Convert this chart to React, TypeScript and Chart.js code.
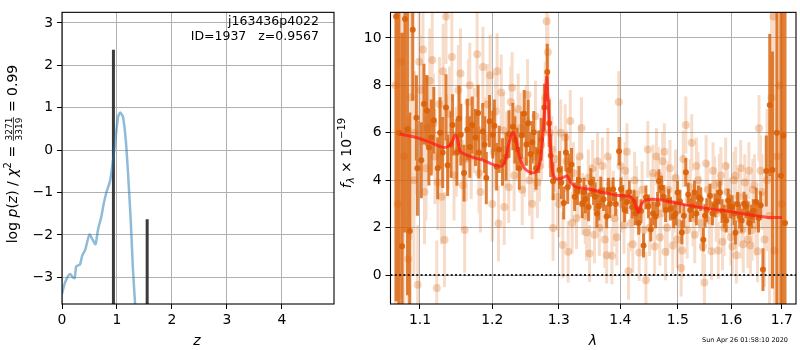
import React, { useEffect, useRef } from "react";
import { Chart, registerables } from "chart.js";
Chart.register(...registerables);

// ---------- left panel: log p(z) ----------
const zGrid = [0, 0.045, 0.11, 0.15, 0.19, 0.23, 0.26, 0.325, 0.37, 0.42, 0.5, 0.56, 0.61, 0.656, 0.716, 0.758, 0.807, 0.87, 0.91, 0.96, 1.02, 1.06, 1.11, 1.16, 1.2, 1.25, 1.29, 1.33, 1.4];
const logPz = [-3.39, -3.16, -2.97, -2.92, -2.99, -3.02, -2.74, -2.7, -2.48, -2.36, -1.99, -2.12, -2.22, -1.87, -1.57, -1.27, -1.0, -0.75, -0.43, 0.1, 0.78, 0.89, 0.78, 0.25, -0.51, -1.64, -2.78, -3.63, -5.0];
const peakZ = [0.936, 1.55];
const peakTop = [2.37, -1.63];
const zTicks = [0, 1, 2, 3, 4];
const pzTicks = [-3, -2, -1, 0, 1, 2, 3];
const Z_MIN = 0, Z_MAX = 4.95, PZ_MIN = -3.63, PZ_MAX = 3.25;

// ---------- right panel: spectrum ----------
const darkLam = [1.0689, 1.0725, 1.0766, 1.0804, 1.0836, 1.0866, 1.0905, 1.0953, 1.0966, 1.1018, 1.1053, 1.1092, 1.1119, 1.1185, 1.1238, 1.1305, 1.135, 1.1372, 1.144, 1.15, 1.1554, 1.1599, 1.1645, 1.1714, 1.1797, 1.1807, 1.1862, 1.1914, 1.196, 1.2007, 1.2063, 1.2148, 1.2244, 1.2301, 1.2363, 1.2397, 1.2469, 1.2502, 1.2565, 1.2614, 1.2648, 1.2726, 1.2776, 1.2821, 1.2874, 1.291, 1.301, 1.3077, 1.3112, 1.3163, 1.32, 1.3293, 1.3371, 1.3423, 1.3475, 1.3555, 1.3609, 1.3673, 1.377, 1.3823, 1.3878, 1.3977, 1.401, 1.4071, 1.4109, 1.4199, 1.4254, 1.431, 1.4395, 1.4436, 1.4521, 1.4607, 1.4664, 1.471, 1.478, 1.4838, 1.4926, 1.4997, 1.5074, 1.5146, 1.5226, 1.5304, 1.5377, 1.5469, 1.5531, 1.5593, 1.5686, 1.578, 1.5861, 1.5937, 1.6013, 1.6077, 1.6161, 1.6245, 1.6323, 1.6388, 1.6486, 1.6573, 1.6619, 1.6686, 1.6755, 1.681, 1.69, 1.6983, 1.7031, 1.7066,
  1.304, 1.314, 1.325, 1.332, 1.34, 1.351, 1.358, 1.364, 1.372, 1.38, 1.392, 1.404, 1.415, 1.423, 1.428, 1.435, 1.448, 1.456, 1.464, 1.475, 1.487, 1.496, 1.504, 1.511, 1.519, 1.527, 1.534, 1.542, 1.55, 1.564, 1.573, 1.582, 1.59, 1.597, 1.605, 1.612, 1.62, 1.628, 1.635, 1.643, 1.653,
  1.115, 1.127, 1.142, 1.153, 1.168, 1.176, 1.189, 1.203, 1.21, 1.22, 1.233, 1.243, 1.253, 1.259, 1.269, 1.285];
const darkFlux = [10.9, 6.0, 1.22, 10.8, 6.15, 1.86, 10.35, 6.63, 4.5, 4.84, 7.21, 6.94, 5.38, 6.53, 4.5, 5.17, 7.07, 4.63, 6.33, 5.17, 5.92, 4.3, 6.13, 6.33, 6.83, 5.17, 6.06, 4.09, 6.49, 5.92, 4.57, 4.77, 5.95, 6.26, 5.31, 4.5, 6.8, 5.51, 5.11, 6.02, 4.5, 5.72, 7.07, 8.56, 5.04, 3.96, 4.43, 3.04, 5.17, 4.43, 4.66, 3.55, 3.01, 3.21, 2.87, 3.55, 2.6, 3.55, 2.47, 3.01, 3.62, 5.22, 3.62, 2.74, 3.08, 2.87, 2.6, 2.2, 1.25, 3.28, 1.92, 2.47, 3.96, 3.69, 2.74, 3.14, 2.47, 3.48, 1.8, 4.34, 2.74, 3.48, 3.28, 1.49, 2.74, 3.35, 2.94, 3.48, 2.47, 3.14, 2.87, 1.79, 2.47, 3.01, 2.6, 2.47, 3.08, 2.94, 0.23, 4.39, 7.17, 4.43, 6.0, 4.19, 5.88, 2.2,
  3.9, 3.7, 3.3, 4.0, 3.5, 3.9, 3.3, 2.9, 3.2, 3.6, 3.0, 3.3, 3.5, 3.1, 2.8, 2.7, 2.9, 2.6, 3.0, 3.3, 2.8, 2.6, 3.1, 2.5, 3.4, 2.9, 2.6, 3.2, 2.5, 2.6, 3.1, 2.7, 2.3, 2.9, 2.6, 3.0, 2.3, 2.9, 2.2, 2.7, 2.4,
  5.8, 6.0, 5.5, 6.6, 5.4, 5.8, 5.5, 6.3, 5.3, 5.0, 5.7, 5.9, 6.4, 5.6, 5.2, 6.4];
const darkErr = [12, 9, 9, 9, 7, 5, 3, 1.8, 2.0, 1.6, 1.7, 1.5, 1.6, 1.4, 1.3, 1.5, 1.4, 1.3, 1.3, 1.4, 1.3, 1.2, 1.3, 1.2, 1.2, 1.1, 1.2, 1.1, 1.1, 1.0, 1.0, 1.0, 1.0, 1.0, 0.9, 0.9, 1.0, 0.9, 0.9, 0.9, 0.9, 0.9, 1.0, 1.2, 0.9, 0.8, 0.8, 0.7, 0.8, 0.7, 0.7, 0.6, 0.6, 0.6, 0.6, 0.6, 0.6, 0.6, 0.5, 0.6, 0.5, 0.6, 0.5, 0.5, 0.5, 0.5, 0.5, 0.5, 0.5, 0.5, 0.5, 0.5, 0.5, 0.5, 0.5, 0.5, 0.5, 0.5, 0.5, 0.6, 0.5, 0.5, 0.5, 0.5, 0.5, 0.5, 0.5, 0.5, 0.5, 0.5, 0.5, 0.5, 0.5, 0.5, 0.5, 0.5, 0.6, 0.6, 0.9, 1.5, 3, 5, 10, 12, 12, 12,
  0.7, 0.7, 0.6, 0.6, 0.6, 0.6, 0.6, 0.6, 0.5, 0.5, 0.5, 0.5, 0.5, 0.5, 0.5, 0.5, 0.5, 0.5, 0.5, 0.5, 0.5, 0.5, 0.5, 0.5, 0.5, 0.5, 0.5, 0.5, 0.5, 0.5, 0.5, 0.5, 0.5, 0.5, 0.5, 0.5, 0.5, 0.5, 0.5, 0.5, 0.6,
  1.6, 1.5, 1.4, 1.4, 1.3, 1.2, 1.2, 1.1, 1.0, 1.0, 1.0, 1.0, 1.0, 0.9, 0.9, 1.0];

const lightLam = [1.068, 1.071, 1.075, 1.079, 1.0845, 1.088, 1.092, 1.097, 1.099, 1.104, 1.106, 1.11, 1.1164, 1.12, 1.1225, 1.126, 1.129, 1.133, 1.135, 1.14, 1.146, 1.152, 1.158, 1.1608, 1.166, 1.17, 1.1783, 1.183, 1.1866, 1.19, 1.1969, 1.2, 1.205, 1.209, 1.213, 1.2174, 1.221, 1.227, 1.232, 1.238, 1.244, 1.25, 1.255, 1.259, 1.264, 1.27, 1.275, 1.279, 1.2811, 1.283, 1.286, 1.291, 1.295, 1.3, 1.3063, 1.31, 1.3147, 1.318, 1.323, 1.328, 1.333, 1.338, 1.344, 1.349, 1.354, 1.36, 1.365, 1.37, 1.377, 1.382, 1.3857, 1.39, 1.3972, 1.402, 1.408, 1.4137, 1.418, 1.424, 1.432, 1.437, 1.4436, 1.45, 1.456, 1.462, 1.468, 1.473, 1.478, 1.483, 1.491, 1.496, 1.503, 1.5061, 1.508, 1.5146, 1.52, 1.5254, 1.531, 1.537, 1.543, 1.5488, 1.555, 1.5622, 1.568, 1.575, 1.58, 1.586, 1.592, 1.599, 1.605, 1.6097, 1.615, 1.62, 1.626, 1.632, 1.637, 1.642, 1.648, 1.654, 1.66, 1.665, 1.67, 1.675, 1.679, 1.683, 1.685, 1.69, 1.695, 1.7,
  1.093, 1.101, 1.108, 1.113, 1.118, 1.124, 1.131, 1.138, 1.143, 1.149, 1.155, 1.163, 1.168, 1.174, 1.181, 1.193, 1.202, 1.207, 1.216, 1.224, 1.229, 1.235, 1.241, 1.247, 1.252, 1.262, 1.267, 1.273, 1.289, 1.298, 1.303, 1.312, 1.321, 1.33, 1.336, 1.342, 1.347, 1.357, 1.362, 1.368, 1.374, 1.379, 1.388, 1.394, 1.4, 1.406, 1.411, 1.421, 1.427, 1.44, 1.447, 1.453, 1.459, 1.465, 1.47, 1.476, 1.481, 1.486, 1.493, 1.499, 1.51, 1.517, 1.523, 1.528, 1.534, 1.54, 1.546, 1.552, 1.558, 1.565, 1.571, 1.577, 1.583, 1.589, 1.596, 1.602, 1.608, 1.613, 1.618, 1.623, 1.629, 1.634, 1.64, 1.645, 1.651, 1.657];
const lightFlux = [8.0, 3.0, 9.0, 5.0, 0.68, 7.5, 4.0, -0.41, 9.0, 9.51, 3.5, 6.2, 9.07, 5.0, -0.54, 7.2, 3.3, 1.49, 10.9, 6.8, 4.2, 7.8, 3.8, 1.9, 7.3, 5.0, 9.31, 3.5, 8.77, 5.8, 8.43, 3.0, 6.9, 2.17, 7.7, 2.87, 5.3, 7.3, 4.2, 7.0, 3.6, 6.5, 4.0, 3.01, 6.7, 4.6, 6.0, 7.5, 10.7, 9.4, 6.0, 1.99, 4.9, 3.0, 1.27, 5.8, 0.98, 6.5, 4.3, 2.4, 5.0, 3.0, 1.8, 0.91, 4.5, 3.4, 2.0, 4.6, 0.84, 3.8, 0.81, 2.4, 7.3, 3.0, 4.4, 0.16, 2.2, 4.0, 0.95, 3.6, -0.22, 2.0, 4.3, 5.0, 1.6, 4.8, 0.98, 3.6, 1.25, 4.1, 2.2, 0.3, 1.04, 6.33, 3.2, 5.58, 1.7, 4.0, 2.2, -0.31, 3.6, 1.0, 3.8, 1.04, 4.2, 2.0, 3.5, 1.6, 4.0, 0.84, 3.3, 1.9, 3.9, 1.5, 1.25, 3.6, 2.1, 6.19, 3.5, 1.5, 4.0, 2.5, 7.48, 10.9, 1.04, 5.0, 8.0, 3.0,
  6.0, 7.8, 4.5, 8.2, 6.4, 3.9, 8.6, 5.6, 9.2, 5.2, 8.5, 4.9, 8.0, 6.1, 4.3, 7.2, 5.2, 8.6, 6.1, 3.7, 7.9, 5.5, 6.2, 4.8, 7.6, 5.0, 3.9, 5.5, 5.3, 3.3, 6.0, 4.8, 2.2, 3.7, 6.2, 2.5, 4.1, 1.7, 4.8, 3.0, 1.5, 5.0, 3.2, 1.6, 4.6, 2.1, 5.2, 1.3, 3.4, 1.9, 5.3, 3.1, 1.2, 4.2, 2.6, 5.2, 2.0, 4.5, 3.0, 1.5, 4.9, 1.9, 3.7, 2.4, 4.6, 3.0, 1.2, 4.7, 2.3, 4.4, 2.6, 3.9, 1.4, 4.6, 2.9, 1.2, 4.2, 2.4, 4.5, 1.3, 3.0, 4.4, 1.9, 3.8, 1.0, 4.4];
const lightErr = [10, 10, 10, 8, 6, 6, 4, 2.5, 2.5, 2.3, 2.2, 2.2, 2.2, 2.0, 2.0, 2.0, 2.0, 2.0, 2.0, 2.0, 1.9, 1.9, 1.9, 1.8, 1.8, 1.8, 1.8, 1.7, 1.7, 1.7, 1.7, 1.6, 1.6, 1.6, 1.6, 1.6, 1.6, 1.5, 1.5, 1.5, 1.5, 1.5, 1.5, 1.5, 1.5, 1.5, 1.5, 1.5, 1.8, 1.6, 1.5, 1.4, 1.4, 1.4, 1.4, 1.4, 1.3, 1.3, 1.3, 1.3, 1.3, 1.3, 1.2, 1.2, 1.2, 1.2, 1.2, 1.2, 1.2, 1.2, 1.2, 1.2, 1.3, 1.2, 1.2, 1.2, 1.2, 1.2, 1.2, 1.2, 1.2, 1.2, 1.2, 1.2, 1.2, 1.2, 1.2, 1.2, 1.2, 1.2, 1.2, 1.2, 1.2, 1.2, 1.2, 1.2, 1.2, 1.2, 1.2, 1.2, 1.2, 1.2, 1.2, 1.2, 1.2, 1.2, 1.2, 1.2, 1.2, 1.2, 1.2, 1.2, 1.2, 1.2, 1.2, 1.3, 1.3, 1.4, 1.6, 2, 3, 4, 5, 6, 6, 10, 12, 12,
  2.6, 2.3, 2.2, 2.2, 2.1, 2.0, 2.0, 2.0, 1.9, 1.9, 1.9, 1.8, 1.8, 1.8, 1.7, 1.7, 1.6, 1.6, 1.6, 1.5, 1.5, 1.5, 1.5, 1.5, 1.5, 1.5, 1.5, 1.5, 1.4, 1.4, 1.4, 1.3, 1.3, 1.3, 1.3, 1.2, 1.2, 1.2, 1.2, 1.2, 1.2, 1.2, 1.2, 1.2, 1.2, 1.2, 1.2, 1.2, 1.2, 1.2, 1.2, 1.2, 1.2, 1.2, 1.2, 1.2, 1.2, 1.2, 1.2, 1.2, 1.2, 1.2, 1.2, 1.2, 1.2, 1.2, 1.2, 1.2, 1.2, 1.2, 1.2, 1.2, 1.2, 1.2, 1.2, 1.2, 1.2, 1.2, 1.2, 1.2, 1.2, 1.2, 1.3, 1.3, 1.3, 1.5];

const modelLam = [1.0736, 1.0974, 1.115, 1.1328, 1.1417, 1.1475, 1.1506, 1.1542, 1.1597, 1.1735, 1.1874, 1.2016, 1.2134, 1.2183, 1.2245, 1.2303, 1.2342, 1.2401, 1.2475, 1.2574, 1.265, 1.2711, 1.2752, 1.2787, 1.2813, 1.2839, 1.287, 1.2905, 1.2947, 1.3035, 1.313, 1.3194, 1.3274, 1.349, 1.371, 1.3933, 1.416, 1.4229, 1.4304, 1.4362, 1.445, 1.4688, 1.5114, 1.5491, 1.5999, 1.6396, 1.6731, 1.7003];
const modelFlux = [5.95, 5.78, 5.58, 5.38, 5.51, 5.92, 5.78, 5.24, 5.11, 4.95, 4.84, 4.66, 4.59, 4.77, 5.58, 6.02, 5.72, 4.97, 4.5, 4.32, 4.36, 4.77, 5.85, 7.3, 8.35, 7.07, 5.45, 4.36, 4.07, 4.07, 4.18, 3.89, 3.71, 3.62, 3.48, 3.37, 3.31, 3.14, 2.64, 3.01, 3.17, 3.17, 2.97, 2.83, 2.67, 2.53, 2.43, 2.43];
const lamTicks = [1.1, 1.2, 1.3, 1.4, 1.5, 1.6, 1.7];
const fluxTicks = [0, 2, 4, 6, 8, 10];
const LAM_MIN = 1.0617, LAM_MAX = 1.7293, F_MIN = -1.22, F_MAX = 11.08;

const FONT = "DejaVu Sans";
const TICK_FONT = { family: FONT, size: 13.9 };

function errorSegments(lam: number[], flux: number[], err: number[]) {
  const pts: any[] = [];
  for (let i = 0; i < lam.length; i++) {
    pts.push({ x: lam[i], y: flux[i] - err[i] });
    pts.push({ x: lam[i], y: flux[i] + err[i] });
    pts.push({ x: lam[i], y: null });
  }
  return pts;
}

function drawRotated(ctx: CanvasRenderingContext2D, pieces: any[], centerY: number, baselineX: number) {
  const widths = pieces.map((p) => {
    ctx.font = p.font;
    if (p.frac) return Math.max(ctx.measureText(p.frac[0]).width, ctx.measureText(p.frac[1]).width) + 2;
    return ctx.measureText(p.text).width;
  });
  const total = widths.reduce((a, b) => a + b, 0);
  ctx.save();
  ctx.translate(baselineX, centerY);
  ctx.rotate(-Math.PI / 2);
  ctx.textBaseline = "alphabetic";
  ctx.fillStyle = "#000";
  let x = -total / 2;
  pieces.forEach((p, i) => {
    ctx.font = p.font;
    if (p.frac) {
      const w = widths[i];
      ctx.textAlign = "center";
      ctx.fillText(p.frac[0], x + w / 2, -5.5);
      ctx.fillText(p.frac[1], x + w / 2, 5);
      ctx.strokeStyle = "#000";
      ctx.lineWidth = 0.8;
      ctx.beginPath();
      ctx.moveTo(x + 0.5, -3.6);
      ctx.lineTo(x + w - 0.5, -3.6);
      ctx.stroke();
    } else {
      ctx.textAlign = "left";
      ctx.fillText(p.text, x, p.dy || 0);
    }
    x += widths[i];
  });
  ctx.restore();
}

const framePlugin = {
  id: "frame",
  afterDatasetsDraw(chart: any) {
    const { ctx, chartArea: a } = chart;
    ctx.save();
    ctx.strokeStyle = "#000";
    ctx.lineWidth = 1.1;
    ctx.strokeRect(a.left, a.top, a.right - a.left, a.bottom - a.top);
    ctx.restore();
  },
};

const leftText = {
  id: "leftText",
  afterDraw(chart: any) {
    const ctx = chart.ctx as CanvasRenderingContext2D;
    ctx.save();
    ctx.fillStyle = "#000";
    ctx.font = `12.5px ${FONT}`;
    ctx.textAlign = "right";
    ctx.textBaseline = "alphabetic";
    ctx.fillText("j163436p4022", 319, 24.5);
    ctx.fillText("ID=1937   z=0.9567", 319, 39.5);
    ctx.font = `italic 14px ${FONT}`;
    ctx.textAlign = "center";
    ctx.fillText("z", 197, 345);
    ctx.restore();
    const n = `14px ${FONT}`, it = `italic 14px ${FONT}`;
    drawRotated(ctx, [
      { text: "log ", font: n },
      { text: "p", font: it },
      { text: "(", font: n },
      { text: "z", font: it },
      { text: ") / ", font: n },
      { text: "χ", font: it },
      { text: "2", font: `10px ${FONT}`, dy: -6 },
      { text: " = ", font: n },
      { frac: ["3271", "3319"], font: `9px ${FONT}` },
      { text: " = 0.99", font: n },
    ], 154, 17);
  },
};

const rightText = {
  id: "rightText",
  afterDraw(chart: any) {
    const ctx = chart.ctx as CanvasRenderingContext2D;
    ctx.save();
    ctx.fillStyle = "#000";
    ctx.font = `italic 14px ${FONT}`;
    ctx.textAlign = "center";
    ctx.textBaseline = "alphabetic";
    ctx.fillText("λ", 593, 345);
    ctx.font = `6.5px ${FONT}`;
    ctx.textAlign = "right";
    ctx.fillText("Sun Apr 26 01:58:10 2020", 788, 342);
    ctx.restore();
    const n = `14px ${FONT}`;
    drawRotated(ctx, [
      { text: "f", font: `italic 14px ${FONT}` },
      { text: "λ", font: `italic 10px ${FONT}`, dy: 3 },
      { text: " × 10", font: n },
      { text: "−19", font: `10px ${FONT}`, dy: -6 },
    ], 153, 351);
  },
};

function axisCommon(extra: any) {
  return {
    border: { display: false },
    grid: { color: "#b0b0b0", lineWidth: 1, tickLength: 5, tickColor: "#000", tickWidth: 1, drawTicks: true },
    ...extra,
  };
}

const fmtMinus = (v: any) => (Number(v) < 0 ? "−" + Math.abs(Number(v)) : String(v));

export default function App() {
  const leftRef = useRef<HTMLCanvasElement>(null);
  const rightRef = useRef<HTMLCanvasElement>(null);

  useEffect(() => {
    const barData: any[] = [];
    peakZ.forEach((z, i) => {
      barData.push({ x: z, y: -10 }, { x: z, y: peakTop[i] }, { x: z, y: null });
    });
    // Chart.js draws higher "order" first (underneath)
    const left = new Chart(leftRef.current!, {
      type: "line",
      data: {
        datasets: [
          {
            data: barData,
            borderColor: "rgba(50,50,50,0.95)",
            borderWidth: 3,
            pointRadius: 0,
            spanGaps: false,
            order: 2,
          } as any,
          {
            data: zGrid.map((z, i) => ({ x: z, y: logPz[i] })),
            borderColor: "rgba(31,119,180,0.5)",
            borderWidth: 2.5,
            pointRadius: 0,
            tension: 0.2,
            order: 1,
          } as any,
        ],
      },
      options: {
        responsive: false,
        animation: false,
        devicePixelRatio: 1,
        layout: { padding: { left: 0, top: 1.5, right: 466, bottom: 0 } },
        plugins: { legend: { display: false }, tooltip: { enabled: false } },
        scales: {
          x: axisCommon({
            type: "linear",
            min: Z_MIN,
            max: Z_MAX,
            afterBuildTicks: (s: any) => { s.ticks = zTicks.map((v) => ({ value: v })); },
            afterFit: (s: any) => { s.height = 46; },
            ticks: { font: TICK_FONT, color: "#000", padding: 3, autoSkip: false, maxRotation: 0, callback: fmtMinus },
          }),
          y: axisCommon({
            type: "linear",
            min: PZ_MIN,
            max: PZ_MAX,
            afterBuildTicks: (s: any) => { s.ticks = pzTicks.map((v) => ({ value: v })); },
            afterFit: (s: any) => { s.width = 62; },
            ticks: { font: TICK_FONT, color: "#000", padding: 4, autoSkip: false, callback: fmtMinus },
          }),
        },
      } as any,
      plugins: [framePlugin, leftText],
    });

    const right = new Chart(rightRef.current!, {
      type: "line",
      data: {
        datasets: [
          {
            data: errorSegments(lightLam, lightFlux, lightErr),
            borderColor: "rgba(217,96,8,0.22)",
            borderWidth: 3,
            pointRadius: 0,
            spanGaps: false,
            order: 6,
          } as any,
          {
            type: "scatter",
            data: lightLam.map((l, i) => ({ x: l, y: lightFlux[i] })),
            backgroundColor: "rgba(217,96,8,0.28)",
            borderWidth: 0,
            pointRadius: 4,
            order: 5,
          } as any,
          {
            data: errorSegments(darkLam, darkFlux, darkErr),
            borderColor: "rgba(217,96,8,0.8)",
            borderWidth: 3,
            pointRadius: 0,
            spanGaps: false,
            order: 4,
          } as any,
          {
            type: "scatter",
            data: darkLam.map((l, i) => ({ x: l, y: darkFlux[i] })),
            backgroundColor: "rgba(217,96,8,0.9)",
            borderWidth: 0,
            pointRadius: 3,
            order: 3,
          } as any,
          {
            data: modelLam.map((l, i) => ({ x: l, y: modelFlux[i] })),
            borderColor: "rgba(255,25,25,0.72)",
            borderWidth: 3,
            pointRadius: 0,
            tension: 0.25,
            order: 2,
          } as any,
          {
            data: [{ x: LAM_MIN, y: 0 }, { x: LAM_MAX, y: 0 }],
            borderColor: "#222",
            borderWidth: 2,
            borderDash: [2, 2.3],
            pointRadius: 0,
            order: 1,
          } as any,
        ],
      },
      options: {
        responsive: false,
        animation: false,
        devicePixelRatio: 1,
        layout: { padding: { left: 340.5, top: 1.5, right: 0.5, bottom: 0 } },
        plugins: { legend: { display: false }, tooltip: { enabled: false } },
        scales: {
          x: axisCommon({
            type: "logarithmic",
            min: LAM_MIN,
            max: LAM_MAX,
            afterBuildTicks: (s: any) => { s.ticks = lamTicks.map((v) => ({ value: v })); },
            afterFit: (s: any) => { s.height = 46; },
            ticks: { font: TICK_FONT, color: "#000", padding: 3, autoSkip: false, maxRotation: 0, callback: (v: any) => Number(v).toFixed(1) },
          }),
          y: axisCommon({
            type: "linear",
            min: F_MIN,
            max: F_MAX,
            afterBuildTicks: (s: any) => { s.ticks = fluxTicks.map((v) => ({ value: v })); },
            afterFit: (s: any) => { s.width = 50; },
            ticks: { font: TICK_FONT, color: "#000", padding: 4, autoSkip: false, callback: fmtMinus },
          }),
        },
      } as any,
      plugins: [framePlugin, rightText],
    });

    return () => {
      left.destroy();
      right.destroy();
    };
  }, []);

  const cs: React.CSSProperties = { position: "absolute", left: 0, top: 0, width: 800, height: 350 };
  return (
    <div style={{ position: "absolute", left: 0, top: 0, width: 800, height: 350, background: "#fff" }}>
      <canvas ref={leftRef} width={800} height={350} style={cs} />
      <canvas ref={rightRef} width={800} height={350} style={cs} />
    </div>
  );
}
